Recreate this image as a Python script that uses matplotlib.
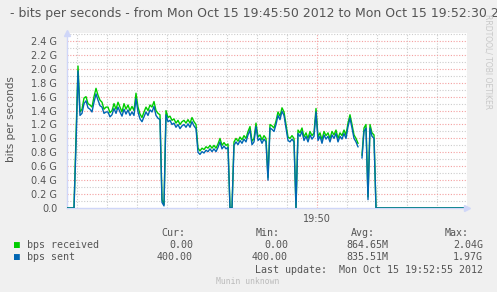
import numpy as np
import matplotlib
matplotlib.use('Agg')
import matplotlib.pyplot as plt

W, H = 497, 292

# seconds after 19:45:50, samples every 2 s while traffic was flowing
seconds = np.r_[0, np.arange(7, 311, 2), 400]

# values in Gbit/s
received = [0.00,
    0.00, 1.00, 2.04, 1.38, 1.42, 1.58, 1.60, 1.50, 1.48, 1.45,
    1.60, 1.72, 1.62, 1.55, 1.52, 1.42, 1.45, 1.45, 1.37, 1.40,
    1.50, 1.42, 1.52, 1.45, 1.38, 1.50, 1.42, 1.48, 1.40, 1.46,
    1.40, 1.65, 1.45, 1.35, 1.30, 1.38, 1.45, 1.40, 1.48, 1.45,
    1.53, 1.40, 1.36, 1.34, 0.12, 0.05, 1.40, 1.30, 1.32, 1.26,
    1.28, 1.22, 1.26, 1.20, 1.24, 1.26, 1.22, 1.27, 1.22, 1.30,
    1.24, 1.20, 0.86, 0.82, 0.86, 0.84, 0.88, 0.86, 0.90, 0.86,
    0.90, 0.86, 0.92, 1.00, 0.90, 0.94, 0.90, 0.92, 0.00, 0.00,
    0.95, 1.00, 0.96, 1.02, 0.98, 1.04, 1.00, 1.10, 1.17, 0.96,
    1.00, 1.22, 1.02, 1.05, 0.98, 1.04, 1.00, 0.44, 1.20, 1.18,
    1.15, 1.25, 1.38, 1.32, 1.44, 1.38, 1.20, 1.02, 1.00, 1.04,
    1.00, 0.00, 1.12, 1.08, 1.15, 1.02, 1.08, 1.00, 1.10, 1.04,
    1.08, 1.43, 1.02, 1.08, 0.98, 1.10, 1.04, 1.08, 1.00, 1.10,
    1.05, 1.12, 1.00, 1.08, 1.04, 1.12, 1.05, 1.22, 1.34, 1.20,
    1.05, 1.00, 0.93, np.nan, 0.76, 1.15, 1.20, 0.16, 1.20, 1.08,
    1.05, 0.00,
    0.00]

sent = [0.00,
    0.00, 0.90, 1.97, 1.33, 1.36, 1.50, 1.54, 1.44, 1.42, 1.38,
    1.52, 1.64, 1.55, 1.47, 1.45, 1.36, 1.38, 1.38, 1.31, 1.34,
    1.43, 1.36, 1.45, 1.38, 1.32, 1.42, 1.35, 1.41, 1.33, 1.38,
    1.33, 1.57, 1.38, 1.28, 1.24, 1.31, 1.38, 1.33, 1.41, 1.38,
    1.46, 1.33, 1.29, 1.27, 0.08, 0.03, 1.34, 1.24, 1.26, 1.20,
    1.22, 1.16, 1.20, 1.14, 1.18, 1.20, 1.16, 1.21, 1.16, 1.24,
    1.18, 1.14, 0.80, 0.77, 0.81, 0.79, 0.83, 0.81, 0.85, 0.81,
    0.85, 0.81, 0.87, 0.95, 0.85, 0.89, 0.85, 0.87, 0.00, 0.00,
    0.90, 0.95, 0.91, 0.97, 0.93, 0.99, 0.95, 1.05, 1.12, 0.91,
    0.95, 1.17, 0.97, 1.00, 0.93, 0.99, 0.95, 0.40, 1.15, 1.13,
    1.10, 1.20, 1.33, 1.27, 1.39, 1.33, 1.15, 0.97, 0.95, 0.99,
    0.95, 0.00, 1.07, 1.03, 1.10, 0.97, 1.03, 0.95, 1.05, 0.99,
    1.03, 1.38, 0.97, 1.03, 0.93, 1.05, 0.99, 1.03, 0.95, 1.05,
    1.00, 1.07, 0.95, 1.03, 0.99, 1.07, 1.00, 1.17, 1.29, 1.15,
    1.00, 0.95, 0.88, np.nan, 0.72, 1.10, 1.15, 0.12, 1.15, 1.03,
    1.00, 0.00,
    0.00]

y_ticks = [0.0, 0.2, 0.4, 0.6, 0.8, 1.0, 1.2, 1.4, 1.6, 1.8, 2.0, 2.2, 2.4]
y_labels = ['0.0'] + ['%.1f G' % v for v in y_ticks[1:]]

legend_names = ['bps received', 'bps sent']
legend_colors = ['#00CC00', '#0066B3']
cur_vals = ['0.00', '400.00']
min_vals = ['0.00', '400.00']
avg_vals = ['864.65M', '835.51M']
max_vals = ['2.04G', '1.97G']

font_col = '#555555'
axis_col = '#CFD6F8'

fig = plt.figure(figsize=(W / 100, H / 100), dpi=100, facecolor='#F0F0F0')
ax = fig.add_axes([67 / W, 1 - 208 / H, 400 / W, 175.5 / H])
ax.set_facecolor('white')
ax.set_xlim(0, 400)
ax.set_ylim(0, 2.522)

# grid: minor grey every 30 s / 0.1 G, major red at 19:50 and every 0.2 G
for t in range(10, 401, 30):
    c = '#F4A0A0' if t == 250 else '#CCCCCC'
    ax.axvline(t, color=c, lw=0.8, ls=(0, (1, 1.5)), zorder=1)
for i in range(1, 26):
    c = '#F4A0A0' if i % 2 == 0 else '#CCCCCC'
    ax.axhline(i / 10, color=c, lw=0.8, ls=(0, (1, 1.5)), zorder=1)

ax.plot(seconds, received, color=legend_colors[0], lw=1.0, zorder=3)
ax.plot(seconds, sent, color=legend_colors[1], lw=1.0, zorder=4)

for s in ['top', 'right']:
    ax.spines[s].set_visible(False)
for s in ['left', 'bottom']:
    ax.spines[s].set_color(axis_col)
    ax.spines[s].set_linewidth(1.0)
ax.plot([0], [1.0], marker='^', ms=5, color=axis_col, transform=ax.transAxes,
        clip_on=False, zorder=5)
ax.plot([1.0], [0], marker='>', ms=5, color=axis_col, transform=ax.transAxes,
        clip_on=False, zorder=5)

ax.set_yticks(y_ticks)
ax.set_yticklabels(y_labels)
ax.set_xticks([250])
ax.set_xticklabels(['19:50'])
ax.tick_params(axis='both', length=0, labelsize=7, labelcolor=font_col, pad=7)
ax.tick_params(axis='x', pad=4)

def px(x, y):
    return x / W, 1 - y / H

fig.text(*px(6, 14), ' - bits per seconds - from Mon Oct 15 19:45:50 2012 to Mon Oct 15 19:52:30 2012',
         fontsize=9, color=font_col, va='center', ha='left')
fig.text(*px(11, 119), 'bits per seconds', rotation=90, fontsize=7.5, color=font_col,
         va='center', ha='center')
fig.text(*px(488, 14), 'RRDTOOL/ TOBI OETIKER', rotation=270, fontsize=5.5, color='#C8C8C8',
         va='top', ha='center')

mono = 'DejaVu Sans Mono'
fs = 7.2
for x, s in [(185, 'Cur:'), (280, 'Min:'), (375, 'Avg:'), (469, 'Max:')]:
    fig.text(*px(x, 233), s, family=mono, fontsize=fs, color=font_col, ha='right', va='center')
for i, name in enumerate(legend_names):
    y = 245 + 12 * i
    fig.text(*px(14, y), '\u25A0', family=mono, fontsize=7, color=legend_colors[i],
             ha='left', va='center')
    fig.text(*px(27, y), name, family=mono, fontsize=fs, color=font_col, ha='left', va='center')
    for x, vals in [(193, cur_vals), (288, min_vals), (388, avg_vals), (483, max_vals)]:
        fig.text(*px(x, y), vals[i], family=mono, fontsize=fs, color=font_col,
                 ha='right', va='center')
fig.text(*px(483, 270), 'Last update:  Mon Oct 15 19:52:55 2012', family=mono, fontsize=fs,
         color=font_col, ha='right', va='center')
fig.text(*px(248, 281), 'Munin unknown', family=mono, fontsize=5.8, color='#BBBBBB',
         ha='center', va='center')

fig.savefig('out.png', dpi=100, facecolor=fig.get_facecolor())
